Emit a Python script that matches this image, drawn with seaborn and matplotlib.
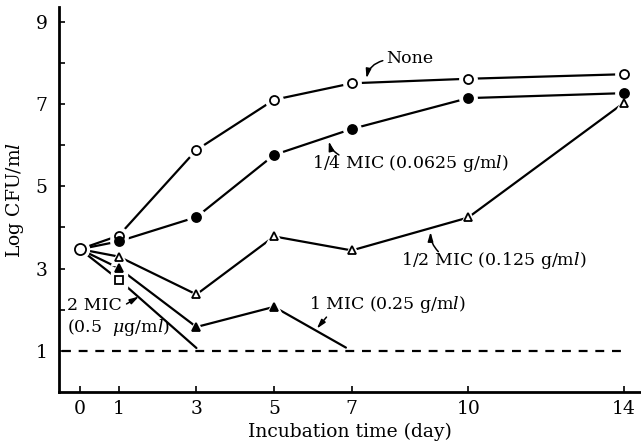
import numpy as np
import seaborn as sns
import matplotlib.pyplot as plt

# datos (log CFU/ml por dia)
days_full = [0, 1, 3, 5, 7, 10, 14]
none_vals = [3.47, 3.80, 5.88, 7.10, 7.50, 7.61, 7.72]
quarter_vals = [3.47, 3.66, 4.25, 5.76, 6.39, 7.14, 7.26]
half_vals = [3.47, 3.29, 2.37, 3.78, 3.44, 4.24, 7.02]
days_one = [0, 1, 3, 5, 6.85]
one_vals = [3.47, 3.01, 1.58, 2.07, 1.08]
days_two = [0, 1, 3]
two_vals = [3.47, 2.73, 1.07]
detect_limit = 1.0

x_ticks = [0, 1, 3, 5, 7, 10, 14]
y_ticks = [1, 2, 3, 4, 5, 6, 7, 8, 9]

sns.set_theme(style="ticks")
plt.rcParams['font.family'] = ['DejaVu Serif']
plt.rcParams['mathtext.fontset'] = 'dejavuserif'
plt.rcParams['text.color'] = 'black'

fig = plt.figure(figsize=(6.41, 4.46), dpi=100)
ax = fig.add_axes([0.092, 0.121, 0.908, 0.863])

# (dias, valores, marcador, relleno, puntos con marcador)
series = [
    (days_full, none_vals, 'o', 'white', 7),
    (days_full, quarter_vals, 'o', 'black', 7),
    (days_full, half_vals, '^', 'white', 7),
    (days_one, one_vals, '^', 'black', 4),
    (days_two, two_vals, 's', 'white', 2),
]

for d, v, m, fc, n in series:
    sns.lineplot(x=d, y=v, color='black', lw=1.6, ax=ax, zorder=2)

for d, v, m, fc, n in series:
    d = np.array(d[1:n])
    v = np.array(v[1:n])
    ms = 6.5 if m == 'o' else 5.5
    ax.plot(d, v, ls='none', marker=m, ms=ms + 6, mfc='white', mec='white', zorder=3)
    ax.plot(d, v, ls='none', marker=m, ms=ms, mfc=fc, mec='black', mew=1.3, zorder=4)

# punto inicial comun
ax.plot([days_full[0]], [none_vals[0]], ls='none', marker='o', ms=13, mfc='white', mec='white', zorder=3)
ax.plot([days_full[0]], [none_vals[0]], ls='none', marker='o', ms=8, mfc='white', mec='black', mew=1.3, zorder=4)

ax.axhline(detect_limit, xmin=0.006, xmax=0.97, color='black', ls=(0, (4, 3.5)), lw=1.6, zorder=1)

ax.set_xlim(-0.54, 14.45)
ax.set_ylim(0, 9.35)
ax.set_xticks(x_ticks)
ax.set_xticklabels([str(t) for t in x_ticks])
ax.set_yticks(y_ticks)
ax.set_yticklabels([str(t) if t % 2 == 1 else '' for t in y_ticks])
ax.tick_params(direction='in', length=4, width=1.2, labelsize=13.5, colors='black')
ax.tick_params(axis='y', pad=8)
ax.tick_params(axis='x', pad=6)
sns.despine(ax=ax)
for s in ['left', 'bottom']:
    ax.spines[s].set_linewidth(2)
    ax.spines[s].set_color('black')

ax.set_xlabel('Incubation time (day)', fontsize=13.5, labelpad=3, color='black')
ax.set_ylabel('Log CFU/m$l$', fontsize=13.5, labelpad=7, color='black')

arrow = dict(arrowstyle='-|>,head_length=0.45,head_width=0.13', color='black', lw=1.1,
             shrinkA=0, shrinkB=0)
fs = 12.5
ax.text(7.9, 8.1, 'None', fontsize=fs, va='center', ha='left')
ax.annotate('', xy=(7.38, 7.62), xytext=(7.8, 8.05),
            arrowprops=dict(arrow, connectionstyle='arc3,rad=0.3'))
ax.text(5.97, 5.55, '1/4 MIC (0.0625 g/m$l$)', fontsize=fs, va='center', ha='left')
ax.annotate('', xy=(6.41, 6.09), xytext=(6.67, 5.76),
            arrowprops=dict(arrow, connectionstyle='arc3,rad=-0.2'))
ax.text(8.28, 3.2, '1/2 MIC (0.125 g/m$l$)', fontsize=fs, va='center', ha='left')
ax.annotate('', xy=(9.03, 3.89), xytext=(9.23, 3.41),
            arrowprops=dict(arrow, connectionstyle='arc3,rad=-0.2'))
ax.text(5.9, 2.12, '1 MIC (0.25 g/m$l$)', fontsize=fs, va='center', ha='left')
ax.annotate('', xy=(6.1, 1.54), xytext=(6.35, 1.82),
            arrowprops=dict(arrow, connectionstyle='arc3,rad=0'))
ax.text(-0.33, 2.1, '2 MIC', fontsize=fs, va='center', ha='left')
ax.annotate('', xy=(1.52, 2.32), xytext=(1.2, 2.14),
            arrowprops=dict(arrow, connectionstyle='arc3,rad=0'))
ax.text(-0.34, 1.56, '(0.5  $\\mu$g/m$l$)', fontsize=fs, va='center', ha='left')

fig.savefig('out.png', dpi=100, facecolor='white')
